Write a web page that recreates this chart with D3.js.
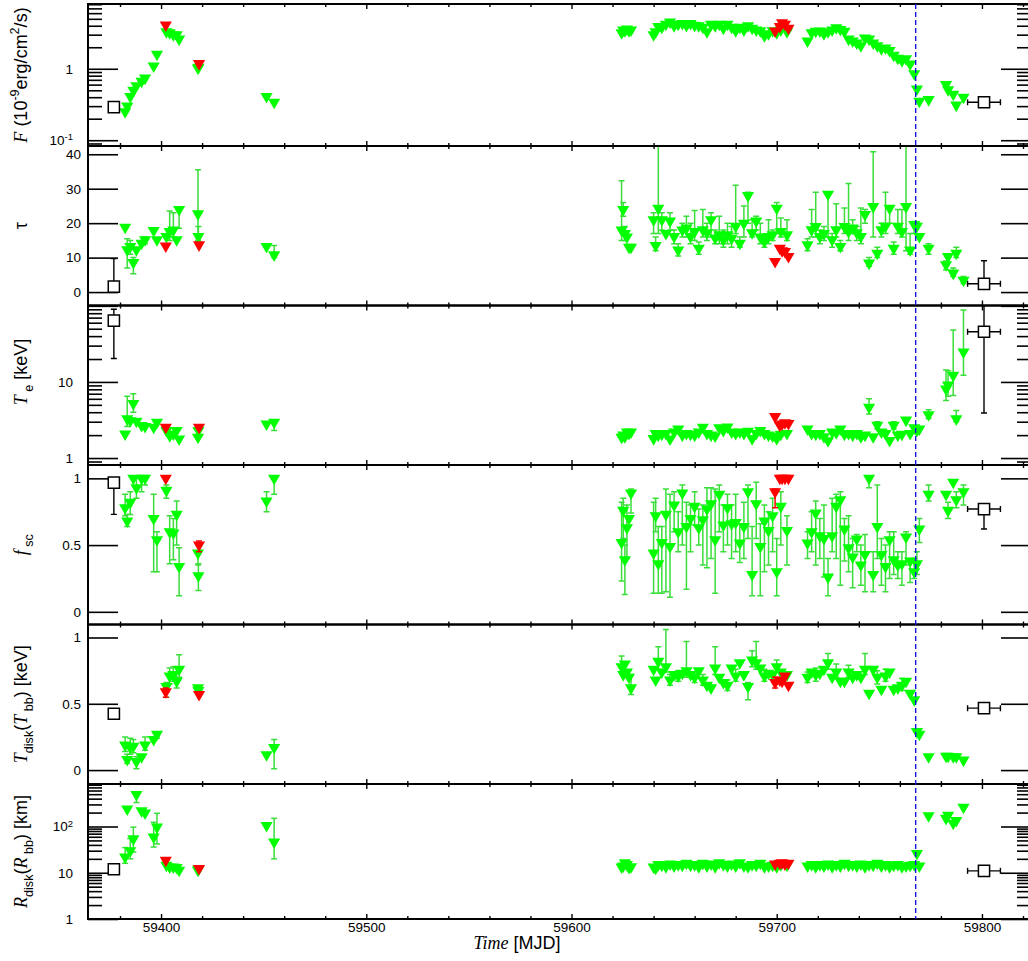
<!DOCTYPE html>
<html>
<head>
<meta charset="utf-8">
<script src="https://cdnjs.cloudflare.com/ajax/libs/d3/7.8.5/d3.min.js"></script>
<style>
  body { margin: 0; background: #fff; }
  text { font-family: "Liberation Sans", Arial, sans-serif; fill: #000; }
</style>
</head>
<body>
<svg id="chart" width="1028" height="961"></svg>
<script>
// ---- data ----
// times (MJD) of the green observations
const greenMJD = [
  59382.5, 59383.5, 59385, 59386.5, 59388, 59390.5, 59392.2, 59396.4, 59398, 59402.6, 59404.2, 59406, 59407.6, 59408.8, 59418, 59418.2, 59451.4, 59455.1,
  59624.4, 59625.2, 59626, 59627, 59628, 59629,
  59640, 59641, 59642.3, 59644, 59646, 59648, 59650, 59652, 59654, 59656, 59658, 59660, 59662, 59664, 59666, 59668, 59670, 59672, 59674, 59676,
  59678, 59680, 59682, 59684, 59686, 59688, 59690, 59692, 59694, 59696, 59698, 59700, 59702, 59705,
  59715, 59717, 59719, 59721, 59723, 59725, 59727, 59729, 59731, 59733, 59735, 59737, 59739, 59741, 59743, 59745, 59747, 59749, 59751, 59753,
  59755, 59757, 59759, 59761, 59763, 59765, 59767,
  59768.3, 59769.5, 59774, 59782.5, 59783.5, 59786, 59787.5, 59791
];
const fluxG = [
  0.25, 0.30, 0.41, 0.50, 0.58, 0.67, 0.74, 1.09, 1.6, 3.3, 3.2, 3.0, 3.0, 2.6, 1.02, 1.05, 0.41, 0.34,
  3.2, 3.5, 3.4, 3.6, 3.4, 3.5,
  3.0, 3.3, 3.9, 3.8, 4.2, 4.5, 4.0, 4.2, 4.3, 4.05, 4.3, 4.05, 4.0, 3.8, 3.3, 4.2, 4.0, 4.2, 3.7, 4.2,
  3.8, 3.4, 3.8, 3.5, 4.0, 3.7, 3.5, 3.4, 2.9, 3.1, 3.4, 3.2, 3.5, 3.3,
  2.45, 3.2, 3.35, 3.37, 3.1, 3.3, 3.5, 3.75, 3.55, 3.35, 2.6, 2.45, 2.3, 2.1, 2.7, 2.6, 2.3, 2.1, 1.9, 1.95,
  1.8, 1.55, 1.4, 1.3, 1.38, 1.17, 0.85,
  0.52, 0.35, 0.37, 0.60, 0.51, 0.44, 0.31, 0.40
];
const tauG = [
  18.8, 12.3, 13.2, 8.6, 12.3, 14.2, 15.2, 17.9, 15.2, 16.1, 17.6, 18.0, 15.2, 24.0, 22.7, 16.1, 13.2, 10.8,
  18, 24, 17, 16, 13, 13,
  21, 13.5, 24.3, 21, 17, 20.6, 16.1, 12.2, 18, 18.6, 16.1, 17.6, 12.7, 18.1, 17.2, 21, 15.7, 16.6, 15.2, 16.6,
  15.6, 19.1, 14.2, 20, 28, 17.2, 20.6, 16, 14.7, 16.1, 16.6, 24.3, 17.6, 16.6,
  13.7, 18.1, 19, 16.1, 17, 28.4, 15.2, 18.1, 13.2, 19, 17.6, 18.6, 17.2, 16.1, 22.5, 8.4, 24.8, 11.3, 18.1, 19.1,
  24.3, 12.7, 19.1, 17.6, 24.8, 12.2, 19.6,
  19.1, 16.1, 12.7, 7.9, 10.3, 5.5, 11.3, 3.4
];
const teG = [
  2.07, 3.27, 3.1, 5.2, 3.05, 2.67, 2.6, 2.54, 2.95, 2.3, 1.97, 2.07, 2.3, 1.78, 1.87, 2.3, 2.8, 2.95,
  1.87, 2.0, 1.9, 2.2, 2.1, 2.2,
  1.8, 2.1, 2.0, 2.05, 2.1, 1.78, 2.2, 2.4, 2.0, 2.1, 2.05, 2.0, 2.2, 2.54, 2.1, 2.0, 1.95, 2.5, 2.3, 2.55,
  2.2, 2.1, 2.2, 2.1, 2.25, 1.8, 2.1, 2.3, 2.1, 2.0, 1.95, 1.8, 2.05, 2.1,
  2.4, 2.1, 2.05, 2.1, 1.9, 1.69, 2.2, 2.15, 2.4, 2.05, 2.1, 2.0, 2.1, 1.9, 2.0, 4.66, 1.9, 2.7, 2.2, 2.1,
  1.7, 2.7, 2.0, 2.05, 3.15, 2.1, 2.5,
  2.3, 2.4, 3.7, 8.1, 9.1, 12.2, 3.27, 24.8
];
const fscG = [
  0.78, 0.68, 0.82, 1.0, 0.93, 1.0, 1.0, 0.70, 0.54, 0.91, 0.60, 0.59, 0.73, 0.34, 0.44, 0.27, 0.83, 1.0,
  0.52, 0.76, 0.39, 0.63, 0.70, 0.89,
  0.44, 0.72, 0.36, 0.52, 0.73, 0.49, 0.80, 0.60, 0.89, 0.64, 0.70, 0.79, 0.63, 0.69, 0.77, 0.81, 0.54, 0.88, 0.65, 0.78,
  0.66, 0.67, 0.515, 0.64, 0.90, 0.28, 0.81, 0.49, 0.68, 0.61, 0.72, 0.30, 0.79, 0.61,
  0.515, 0.60, 0.74, 0.57, 0.55, 0.26, 0.57, 0.79, 0.84, 0.62, 0.48, 0.41, 0.545, 0.35, 0.43, 1.0, 0.28, 0.64, 0.43, 0.34,
  0.54, 0.39, 0.35, 0.36, 0.56, 0.38, 0.30,
  0.36, 0.62, 0.88, 0.88, 0.76, 0.97, 0.84, 0.90
];
const tdG = [
  0.19, 0.08, 0.17, 0.18, 0.065, 0.10, 0.19, 0.23, 0.27, 0.63, 0.71, 0.72, 0.67, 0.76, 0.62, 0.60, 0.115, 0.17,
  0.78, 0.72, 0.80, 0.74, 0.70, 0.62,
  0.76, 0.68, 0.82, 0.74, 0.78, 0.68, 0.72, 0.71, 0.73, 0.75, 0.72, 0.70, 0.75, 0.68, 0.64, 0.62, 0.77, 0.70, 0.66, 0.64,
  0.77, 0.71, 0.81, 0.72, 0.63, 0.83, 0.81, 0.77, 0.71, 0.73, 0.72, 0.78, 0.74, 0.72,
  0.70, 0.74, 0.72, 0.73, 0.76, 0.81, 0.70, 0.74, 0.67, 0.67, 0.74, 0.70, 0.72, 0.70, 0.76, 0.58, 0.76, 0.70, 0.61, 0.71,
  0.74, 0.61, 0.62, 0.64, 0.67, 0.58, 0.53,
  0.29, 0.27, 0.10, 0.105, 0.105, 0.10, 0.10, 0.075
];
const rG = [
  21.8, 240, 30, 54, 490, 220, 197, 59, 97, 14.5, 13.3, 13.3, 13, 11.3, 11.3, 12, 105, 46,
  13.3, 14, 16.5, 15, 13, 13.5,
  13.3, 12.5, 15, 14.5, 13.5, 15.5, 14, 15, 14.5, 16, 14.5, 15, 13.5, 16, 14, 15.5, 13.5, 16.5, 15, 14,
  15.5, 14, 16.5, 14, 13.5, 15, 14.5, 16, 13.5, 14, 14.5, 13.5, 15, 14.5,
  14, 15, 13.5, 15, 14, 15.5, 13.5, 15, 14, 16, 14.5, 15, 14, 15.5, 13.5, 15, 14.5, 16, 14, 15,
  13.5, 14.5, 15, 13.5, 14, 14.5, 15,
  26, 14, 170, 150, 175, 118, 135, 260
];

// error bars of the green points: [MJD, low, high]
const tauErrG = [
  [59383.5, 7, 15.5], [59385, 11, 15], [59386.5, 5.3, 10], [59392.2, 14, 16], [59404.2, 15, 23.5], [59406, 16, 23],
  [59408.8, 18.5, 24], [59418, 15, 35.5], [59418.2, 14.5, 19], [59455.1, 10, 13.5],
  [59624.4, 15, 32.3], [59625.2, 22, 26], [59626, 15, 19],
  [59640, 17, 23], [59641, 12, 16], [59642.3, 17, 43], [59644, 18, 23], [59648, 18, 23], [59650, 14, 18], [59652, 10.5, 14],
  [59654, 16, 20], [59656, 16, 22], [59658, 14, 20], [59660, 15, 23.7], [59662, 11, 14.5], [59664, 16, 24], [59666, 15, 20],
  [59668, 16, 23], [59670, 14, 18], [59672, 14, 22], [59674, 13, 18], [59676, 14, 20], [59678, 13, 19], [59680, 17, 31],
  [59682, 13, 16], [59684, 16, 25], [59686, 20, 29], [59688, 16, 21], [59690, 18, 22], [59692, 14, 20], [59694, 13, 16],
  [59696, 14, 21], [59698, 15, 18], [59700, 17, 26], [59702, 16, 21.5], [59705, 15, 21],
  [59715, 12, 15.5], [59717, 16, 24], [59719, 16, 29], [59721, 14, 18], [59723, 15, 19], [59725, 16, 29], [59727, 13, 17],
  [59729, 16, 25.6], [59731, 12, 15], [59733, 17, 24.4], [59735, 15, 31.5], [59737, 17, 21], [59739, 15, 19], [59741, 14, 24.4],
  [59743, 20, 24], [59745, 7.5, 10], [59747, 16, 40.7], [59749, 10, 13], [59751, 16, 20], [59753, 17, 29], [59755, 20, 25],
  [59757, 11, 14.5], [59759, 17, 24], [59761, 16, 24], [59763, 12, 43], [59765, 11, 17], [59767, 17, 20.5],
  [59774, 11, 14], [59782.5, 6.5, 9], [59786, 4.5, 7], [59787.5, 10, 13], [59791, 2.5, 4.5]
];
const teErrG = [
  [59383.5, 2.6, 6.5], [59386.5, 4.0, 7.0], [59455.1, 2.3, 3.1], [59745, 3.8, 6.0], [59749, 2.4, 3.0], [59757, 2.4, 3.0],
  [59774, 3.3, 4.3], [59782.5, 5.7, 14.3], [59783.5, 6.5, 14], [59786, 6.65, 48], [59787.5, 3.0, 4.2], [59791, 12.2, 88]
];
const fscErrG = [
  [59382.5, .72, .88], [59383.5, .64, .73], [59385, .73, .90], [59388, .85, 1.0], [59390.5, .90, 1.0], [59392.2, .95, 1.0],
  [59396.4, .30, .88], [59398, .30, .60], [59402.6, .85, .95], [59404.2, .36, .72], [59406, .39, .70], [59407.6, .50, .83],
  [59408.8, .12, .48], [59418, .35, .50], [59418.2, .16, .36], [59451.4, .75, .90], [59455.1, .88, 1.0],
  [59624.4, .23, .82], [59625.2, .55, .85], [59626, .13, .50], [59627, .40, .80], [59629, .74, .92],
  [59640, .14, .82], [59641, .60, .85], [59642.3, .14, .64], [59644, .14, .64], [59646, .15, .92], [59648, .11, .88],
  [59650, .60, .90], [59652, .45, .75], [59654, .50, .95], [59656, .17, .82], [59658, .45, .80], [59660, .65, .90],
  [59662, .50, .77], [59664, .35, .80], [59666, .33, .93], [59668, .40, .93], [59670, .14, .92], [59672, .60, .95],
  [59674, .45, .80], [59676, .50, .88], [59678, .40, .80], [59680, .45, .88], [59682, .37, .66], [59684, .40, .82],
  [59686, .55, .95], [59688, .12, .64], [59690, .55, .97], [59692, .12, .66], [59694, .30, .80], [59696, .35, .75],
  [59698, .45, .85], [59700, .12, .55], [59702, .50, .90], [59705, .35, .72],
  [59715, .40, .60], [59717, .45, .75], [59719, .35, .83], [59721, .40, .70], [59723, .26, .80], [59725, .12, .40],
  [59727, .45, .85], [59729, .40, .88], [59731, .20, .90], [59733, .38, .70], [59735, .30, .72], [59737, .18, .55],
  [59739, .45, .58], [59741, .20, .50], [59743, .15, .58], [59745, .93, 1.0], [59747, .15, .45], [59749, .40, .95],
  [59751, .20, .55], [59753, .15, .50], [59755, .25, .60], [59757, .28, .60], [59759, .25, .45], [59761, .20, .45],
  [59763, .35, .60], [59765, .22, .40], [59767, .25, .40],
  [59768.3, .28, .45], [59769.5, .52, .70], [59774, .83, .95], [59783.5, .70, .82], [59787.5, .78, .90], [59791, .80, .95]
];
const tdErrG = [
  [59382.5, .14, .25], [59383.5, .05, .12], [59385, .12, .24], [59386.5, .13, .23], [59388, .01, .10], [59392.2, .15, .25],
  [59398, .24, .29], [59402.6, .55, .66], [59404.2, .65, .77], [59406, .67, .78], [59407.6, .62, .73], [59408.8, .70, .87],
  [59455.1, .01, .23], [59624.4, .74, .86], [59629, .57, .72],
  [59642.3, .76, .93], [59646, .74, 1.06], [59648, .64, .72], [59652, .67, .75], [59656, .70, .97], [59660, .66, .74],
  [59664, .64, .72], [59670, .72, .93], [59676, .60, .68], [59680, .67, .76], [59686, .53, .66], [59688, .78, .90],
  [59690, .76, .97], [59694, .67, .76], [59700, .74, .83],
  [59715, .66, .74], [59719, .67, .77], [59725, .76, .88], [59729, .70, .80], [59735, .70, .79], [59743, .72, .88],
  [59749, .65, .75], [59753, .67, .76], [59761, .60, .69]
];
const rErrG = [
  [59382.5, 16, 35], [59385, 20, 55], [59386.5, 28, 97], [59388, 330, 560], [59396.4, 36, 123], [59398, 42, 193], [59455.1, 20, 150]
];

// red observations
const redMJD = [59402.3, 59418.5, 59699.2, 59701.5, 59702.6, 59704, 59705.7];
const fluxR = [4.1, 1.18, 3.37, 3.9, 4.4, 4.2, 3.7];
const tauR = [13.4, 13.7, 8.9, 12.7, 12.0, 11.8, 10.3];
const teR = [2.54, 2.54, 3.5, 2.7, 2.8, 2.9, 2.85];
const fscR = [1.0, 0.50, 0.90, 1.0, 1.0, 1.0, 1.0];
const tdR = [0.59, 0.57, 0.66, 0.68, 0.67, 0.71, 0.64];
const rR = [18.6, 12.3, 15.5, 16, 16.5, 15.5, 16];
const fscErrR = [[59418.5, .45, .53], [59699.2, .78, .92]];
const tdErrR = [[59402.3, .55, .62], [59699.2, .62, .70]];

// open squares: [MJD, half-width in days]
const sqMJD = [59377, 59801];
const sqMJDErr = [0, 8];
const fluxS = [0.29, 0.34];
const tauS = [1.6, 2.4];
const teS = [63.8, 45.6];
const fscS = [0.968, 0.77];
const tdS = [0.425, 0.467];
const rS = [11.9, 11];
const tauErrS = [[59377, 1.0, 9.7], [59801, 1.5, 9.1]];
const teErrS = [[59377, 20.3, 90], [59801, 3.9, 110]];
const fscErrS = [[59377, 0.73, 1.0], [59801, 0.62, 0.78]];

const xMajor = [59400, 59500, 59600, 59700, 59800];
const xMinor = d3.range(59380, 59821, 20).filter(d => d % 100 !== 0);
const dashedMJD = 59767.7;

// ---- layout ----
const svg = d3.select("#chart");
const X0 = 88, X1 = 1031;
const x = d3.scaleLinear().domain([59364.4, 59823.9]).range([X0, X1]);

const GREEN = "#00ff00", GREEN_ERR = "#3ade3a", RED = "#ff0000";
const serif = "'Liberation Serif', 'Times New Roman', serif";
const sans = "'Liberation Sans', Arial, sans-serif";

const panels = [
  { type: "log", domain: [0.083, 8.06], top: 4, bottom: 146, g: fluxG, r: fluxR, s: fluxS,
    title: [{t: "F", it: 1}, {t: " (10"}, {t: "-9", sup: 1}, {t: "erg/cm"}, {t: "2", sup: 1}, {t: "/s)"}] },
  { type: "lin", domain: [-3.9, 42.4], top: 146, bottom: 305.5, g: tauG, ge: tauErrG, r: tauR, s: tauS, se: tauErrS,
    ticks: [0, 10, 20, 30, 40], title: [{t: "τ"}] },
  { type: "log", domain: [0.81, 101], top: 305.5, bottom: 465, g: teG, ge: teErrG, r: teR, s: teS, se: teErrS, titleY: 372,
    labels: [1, 10], title: [{t: "T", it: 1}, {t: " e", sub: 1}, {t: " [keV]"}] },
  { type: "lin", domain: [-0.095, 1.10], top: 465, bottom: 624.5, g: fscG, ge: fscErrG, r: fscR, re: fscErrR, s: fscS, se: fscErrS,
    ticks: [0, 0.5, 1], title: [{t: "f", it: 1}, {t: " sc", sub: 1}] },
  { type: "lin", domain: [-0.105, 1.098], top: 624.5, bottom: 784, g: tdG, ge: tdErrG, r: tdR, re: tdErrR, s: tdS,
    ticks: [0, 0.5, 1], title: [{t: "T", it: 1}, {t: "disk", sub: 1}, {t: "("}, {t: "T", it: 1}, {t: " bb", sub: 1}, {t: ") [keV]"}] },
  { type: "log", domain: [1, 830], top: 784, bottom: 919, g: rG, ge: rErrG, r: rR, s: rS,
    title: [{t: "R", it: 1}, {t: "disk", sub: 1}, {t: "("}, {t: "R", it: 1}, {t: " bb", sub: 1}, {t: ") [km]"}] }
];

// text with sub/superscripts and italic parts
function richText(sel, parts, size) {
  let shift = 0;
  parts.forEach(p => {
    const want = p.sub ? size * 0.32 : p.sup ? -size * 0.45 : 0;
    const t = sel.append("tspan").text(p.t).attr("dy", want - shift);
    shift = want;
    if (p.it) t.attr("font-family", serif).attr("font-style", "italic");
    if (p.sub || p.sup) t.attr("font-size", size * 0.7);
  });
}

function logLabel(d) {
  const e = Math.round(Math.log10(d));
  if (e === 0) return "1";
  if (e === 1) return "10";
  return "10^" + e;
}

// one axis per group, so a second call does not replace the first one's ticks
function tickGroup(transform, axis, width) {
  const g = svg.append("g").attr("transform", transform).call(axis);
  g.selectAll(".domain").remove();
  g.selectAll("line").attr("stroke", "#000").attr("stroke-width", width);
  return g;
}

function drawErr(g, data, y, color, w) {
  g.selectAll(null).data(data).enter().append("line")
    .attr("x1", d => x(d[0])).attr("x2", d => x(d[0]))
    .attr("y1", d => y(d[1])).attr("y2", d => y(d[2]))
    .attr("stroke", color).attr("stroke-width", w);
  [1, 2].forEach(k => {
    g.selectAll(null).data(data).enter().append("line")
      .attr("x1", d => x(d[0]) - 3).attr("x2", d => x(d[0]) + 3)
      .attr("y1", d => y(d[k])).attr("y2", d => y(d[k]))
      .attr("stroke", color).attr("stroke-width", w);
  });
}

const tri = d3.symbol(d3.symbolTriangle, 64);
const sq = d3.symbol(d3.symbolSquare, 125);

panels.forEach((p, i) => {
  const y = (p.type === "log" ? d3.scaleLog() : d3.scaleLinear()).domain(p.domain).range([p.bottom, p.top]);
  const clipId = "clip" + i;
  svg.append("clipPath").attr("id", clipId).append("rect")
    .attr("x", X0).attr("y", p.top).attr("width", X1 - X0).attr("height", p.bottom - p.top);

  // y axes
  let majors, minors;
  if (p.type === "log") {
    const all = y.ticks();
    majors = all.filter(d => Math.abs(Math.log10(d) - Math.round(Math.log10(d))) < 1e-6);
    minors = all.filter(d => !majors.includes(d));
  } else {
    majors = p.ticks; minors = [];
  }
  const fmt = p.type === "log"
    ? d => (!p.labels || p.labels.includes(d) ? logLabel(d) : "")
    : d => String(d);
  const left = tickGroup(`translate(${X0},0)`,
    d3.axisLeft(y).tickValues(majors).tickSize(-30).tickPadding(p.type === "log" ? 15 : 7).tickFormat(fmt), 1.6);
  tickGroup(`translate(${X0},0)`, d3.axisLeft(y).tickValues(minors).tickSize(-14).tickFormat(""), 1.6);
  left.selectAll("text").attr("font-size", 13.5).attr("font-family", sans)
    .each(function() {
      const s = d3.select(this).text();
      if (s.includes("^")) {
        const [b, e] = s.split("^");
        const el = d3.select(this).text(b);
        el.append("tspan").text(e).attr("font-size", 9.5).attr("dy", "-0.5em");
      }
    });

  tickGroup(`translate(${X1},0)`, d3.axisRight(y).tickValues(majors).tickSize(-30).tickFormat(""), 1.6);
  tickGroup(`translate(${X1},0)`, d3.axisRight(y).tickValues(minors).tickSize(-14).tickFormat(""), 1.6);

  // x ticks on top and bottom of each panel, pointing inward
  [[d3.axisBottom, p.top], [d3.axisTop, p.bottom]].forEach(([ax, yy]) => {
    tickGroup(`translate(0,${yy})`, ax(x).tickValues(xMajor).tickSize(5).tickFormat(""), 1.4);
    tickGroup(`translate(0,${yy})`, ax(x).tickValues(xMinor).tickSize(3).tickFormat(""), 1.4);
  });

  // data
  const body = svg.append("g").attr("clip-path", `url(#${clipId})`);
  if (p.ge) drawErr(body, p.ge, y, GREEN_ERR, 1.5);
  body.selectAll(null).data(greenMJD.map((t, k) => [t, p.g[k]])).enter().append("path")
    .attr("d", tri).attr("fill", GREEN)
    .attr("transform", d => `translate(${x(d[0])},${y(d[1])}) rotate(180)`);
  if (p.re) drawErr(body, p.re, y, RED, 1.5);
  body.selectAll(null).data(redMJD.map((t, k) => [t, p.r[k]])).enter().append("path")
    .attr("d", tri).attr("fill", RED)
    .attr("transform", d => `translate(${x(d[0])},${y(d[1])}) rotate(180)`);

  if (p.se) drawErr(body, p.se, y, "#000", 1.4);
  const sqData = sqMJD.map((t, k) => [t, p.s[k], sqMJDErr[k]]);
  body.selectAll(null).data(sqData.filter(d => d[2] > 0)).enter().append("line")
    .attr("x1", d => x(d[0] - d[2])).attr("x2", d => x(d[0] + d[2]))
    .attr("y1", d => y(d[1])).attr("y2", d => y(d[1]))
    .attr("stroke", "#000").attr("stroke-width", 1.4);
  [-1, 1].forEach(s => {
    body.selectAll(null).data(sqData.filter(d => d[2] > 0)).enter().append("line")
      .attr("x1", d => x(d[0] + s * d[2])).attr("x2", d => x(d[0] + s * d[2]))
      .attr("y1", d => y(d[1]) - 3).attr("y2", d => y(d[1]) + 3)
      .attr("stroke", "#000").attr("stroke-width", 1.4);
  });
  body.selectAll(null).data(sqData).enter().append("path")
    .attr("d", sq).attr("fill", "#fff").attr("stroke", "#000").attr("stroke-width", 1.5)
    .attr("transform", d => `translate(${x(d[0])},${y(d[1])})`);

  // frame
  svg.append("rect").attr("x", X0).attr("y", p.top).attr("width", X1 - X0).attr("height", p.bottom - p.top)
    .attr("fill", "none").attr("stroke", "#000").attr("stroke-width", 2);

  // y title
  const cy = p.titleY || (p.top + p.bottom) / 2;
  const tt = svg.append("text").attr("text-anchor", "middle").attr("font-size", 18)
    .attr("transform", `translate(27,${cy}) rotate(-90)`);
  richText(tt, p.title, 18);
});

// bottom x labels
const xl = svg.append("g").attr("transform", "translate(0,919)")
  .call(d3.axisBottom(x).tickValues(xMajor).tickSize(0).tickPadding(3).tickFormat(d3.format("d")));
xl.selectAll(".domain").remove();
xl.selectAll("text").attr("font-size", 13.5).attr("font-family", sans);

const xt = svg.append("text").attr("x", 517).attr("y", 949).attr("text-anchor", "middle").attr("font-size", 18);
richText(xt, [{t: "Time", it: 1}, {t: " [MJD]"}], 18);

// dashed marker line across all panels
svg.append("line")
  .attr("x1", x(dashedMJD)).attr("x2", x(dashedMJD))
  .attr("y1", panels[0].top).attr("y2", panels[panels.length - 1].bottom)
  .attr("stroke", "#1515e6").attr("stroke-width", 1.4).attr("stroke-dasharray", "5,3");
</script>
</body>
</html>
